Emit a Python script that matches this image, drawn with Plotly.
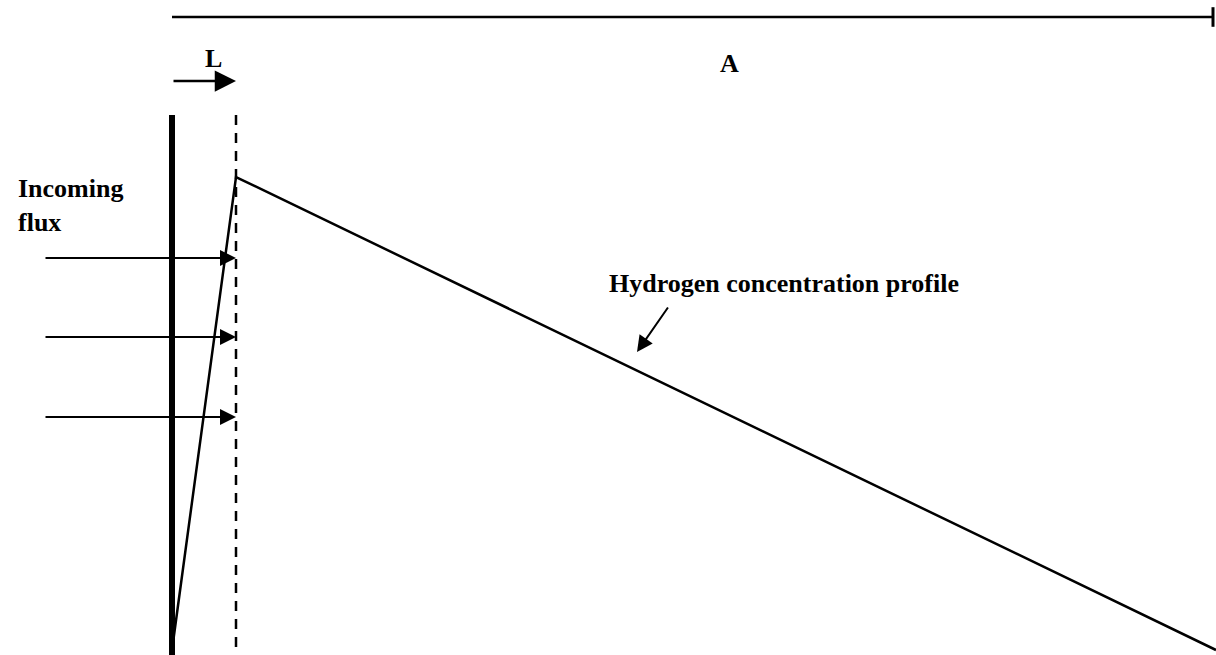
import plotly.graph_objects as go

# Diagram geometry (pixel-like units, y grows downward)
surface_x = [172, 172]
surface_y = [115, 655]
layer_x = [236, 236]
layer_y = [115, 655]
profile_x = [172, 236, 1216]
profile_y = [650, 177, 650]
top_axis_x = [172, 1213]
top_axis_y = [17, 17]
flux_y = [258, 337, 417]
flux_start_x = 44
flux_end_x = 236
label_font = "Liberation Serif"

fig = go.Figure()

fig.add_trace(go.Scatter(x=top_axis_x, y=top_axis_y, mode="lines",
                         line=dict(color="black", width=2.5), hoverinfo="skip"))
fig.add_trace(go.Scatter(x=[top_axis_x[-1]], y=[top_axis_y[-1]], mode="markers",
                         marker=dict(symbol="line-ns", size=14, line=dict(color="black", width=3)),
                         hoverinfo="skip"))
fig.add_trace(go.Scatter(x=surface_x, y=surface_y, mode="lines",
                         line=dict(color="black", width=6), hoverinfo="skip"))
fig.add_trace(go.Scatter(x=layer_x, y=layer_y, mode="lines",
                         line=dict(color="black", width=2.5, dash="10px,8px"), hoverinfo="skip"))
fig.add_trace(go.Scatter(x=profile_x, y=profile_y, mode="lines",
                         line=dict(color="black", width=2.5), hoverinfo="skip"))

# flux arrows
for fy in flux_y:
    fig.add_annotation(x=flux_end_x, y=fy, ax=flux_start_x, ay=fy, xref="x", yref="y",
                       axref="x", ayref="y", text="", showarrow=True, arrowhead=2,
                       arrowsize=1.6, arrowwidth=2, arrowcolor="black", standoff=0)

# L arrow
fig.add_annotation(x=236, y=81, ax=172, ay=81, xref="x", yref="y", axref="x", ayref="y",
                   text="", showarrow=True, arrowhead=2, arrowsize=1.7, arrowwidth=2.5,
                   arrowcolor="black", standoff=0)
# profile pointer arrow
fig.add_annotation(x=637, y=352, ax=669, ay=306, xref="x", yref="y", axref="x", ayref="y",
                   text="", showarrow=True, arrowhead=2, arrowsize=1.6, arrowwidth=2,
                   arrowcolor="black", standoff=0)

txt_font = dict(family=label_font, size=26, color="black")
fig.add_annotation(x=213, y=58, text="<b>L</b>", showarrow=False, font=txt_font)
fig.add_annotation(x=729, y=63, text="<b>A</b>", showarrow=False, font=txt_font)
fig.add_annotation(x=16, y=205, text="<b>Incoming<br>flux</b>", showarrow=False,
                   xanchor="left", align="left", font=txt_font)
fig.add_annotation(x=784, y=283, text="<b>Hydrogen concentration profile</b>",
                   showarrow=False, font=txt_font)

fig.update_layout(
    width=1216, height=655, margin=dict(l=0, r=0, t=0, b=0),
    paper_bgcolor="white", plot_bgcolor="white", showlegend=False,
    xaxis=dict(range=[0, 1216], visible=False, fixedrange=True),
    yaxis=dict(range=[655, 0], visible=False, fixedrange=True),
)

fig.write_html("out.html", config={"displayModeBar": False},
               post_script="document.body.style.margin='0';document.body.style.overflow='hidden';")
